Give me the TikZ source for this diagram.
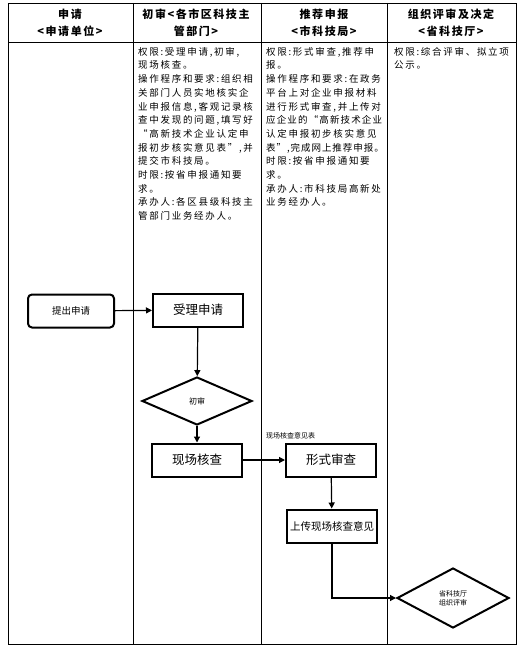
\documentclass[tikz,border=0pt]{standalone}
\usepackage{fontspec}
\newfontfamily\cjk{Noto Sans CJK SC}
\newfontfamily\cellfont[LetterSpace=18]{Noto Sans CJK SC}
\newfontfamily\headfont[LetterSpace=14]{Noto Sans CJK SC}
\usetikzlibrary{shapes.geometric, arrows.meta}

\begin{document}
\begin{tikzpicture}[x=1pt, y=-1pt,
    head/.style={align=center, font=\headfont\bfseries\fontsize{11}{17}\selectfont},
    cell/.style={anchor=north west, align=left, inner sep=0pt, font=\cellfont\fontsize{9.5}{13.7}\selectfont},
    flowbox/.style={draw, line width=2pt, minimum width=90pt, minimum height=33pt, inner sep=1pt, font=\cjk\fontsize{12.5}{14}\selectfont},
    choice/.style={draw, diamond, line width=2pt, inner sep=0pt, font=\cjk\fontsize{8}{10}\selectfont},
    arr/.style={line width=1.2pt, -{Triangle[length=6pt, width=6pt]}}]
  \useasboundingbox (0,0) rectangle (522,650);

  % table
  \draw (8,3) rectangle (516,644);
  \draw (8,42) -- (516,42);
  \draw (133,3) -- (133,644);
  \draw (261,3) -- (261,644);
  \draw (387,3) -- (387,644);

  % header row
  \node[head] (hA) at (70,23) {申请\\<申请单位>};
  \node[head] (hB) at (196,23) {初审<各市区科技主\\管部门>};
  \node[head] (hC) at (324,23) {推荐申报\\<市科技局>};
  \node[head] (hD) at (451,23) {组织评审及决定\\<省科技厅>};

  % cell texts
  \node[cell] (tB) at (138,47) {权限:受理申请,初审,\\现场核查。\\操作程序和要求:组织相\\关部门人员实地核实企\\业申报信息,客观记录核\\查中发现的问题,填写好\\“高新技术企业认定申\\报初步核实意见表”,并\\提交市科技局。\\时限:按省申报通知要\\求。\\承办人:各区县级科技主\\管部门业务经办人。};
  \node[cell] (tC) at (266,47) {权限:形式审查,推荐申\\报。\\操作程序和要求:在政务\\平台上对企业申报材料\\进行形式审查,并上传对\\{\addfontfeature{LetterSpace=12}应企业的“高新技术企业}\\认定申报初步核实意见\\{\addfontfeature{LetterSpace=10}表”,完成网上推荐申报。}\\时限:按省申报通知要\\求。\\承办人:市科技局高新处\\业务经办人。};
  \node[cell] (tD) at (394,47) {权限:综合评审、拟立项\\公示。};

  % flow
  \node[draw, line width=2pt, rounded corners=4pt, minimum width=86pt, minimum height=33pt, font=\cjk\fontsize{9.5}{11}\selectfont] (apply) at (71,311) {提出申请};
  \node[flowbox] (accept) at (198,310) {受理申请};
  \node[choice, minimum width=110pt, minimum height=48pt] (first) at (197,401) {初审};
  \node[flowbox] (site) at (197,460) {现场核查};
  \node[flowbox] (formal) at (331,460) {形式审查};
  \node[flowbox, font=\cjk\fontsize{10.5}{12}\selectfont] (upload) at (332,526) {上传现场核查意见};
  \node[choice, minimum width=112pt, minimum height=60pt, font=\cjk\fontsize{7}{9}\selectfont, align=center] (review) at (453,598) {省科技厅\\组织评审};
  \node[anchor=west, inner sep=0pt, font=\cjk\fontsize{7}{8}\selectfont] (sitenote) at (266,436) {现场核查意见表};

  \draw[arr] (apply) -- (accept);
  \draw[arr] (accept) -- (first);
  \draw[arr] (first) -- (site);
  \draw[arr] (site) -- (formal);
  \draw[arr] (formal) -- (upload);
  \draw[arr] (upload.south) |- (review.west);
\end{tikzpicture}
\end{document}
